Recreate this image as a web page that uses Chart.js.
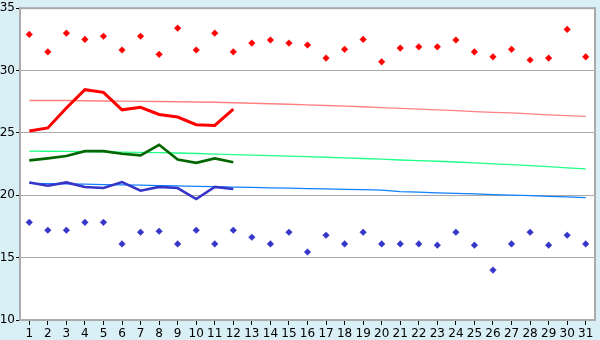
<!DOCTYPE html>
<html>
<head>
<meta charset="utf-8">
<script src="https://cdn.jsdelivr.net/npm/chart.js@4"></script>
<style>
  html, body { margin: 0; padding: 0; background: #d9eff6; }
  #wrap { width: 600px; height: 340px; }
</style>
</head>
<body>
<div id="wrap"><canvas id="temp_chart" width="600" height="340"></canvas></div>
<script>
/** Data **/
const days = []
for (let d = 1; d <= 31; d++) days.push(String(d))

// record highs (red diamonds)
const record_high = [32.9, 31.5, 33.0, 32.5, 32.75, 31.65, 32.75, 31.3, 33.4, 31.65,
    33.0, 31.5, 32.2, 32.45, 32.2, 32.05, 31.0, 31.7, 32.5, 30.7,
    31.8, 31.9, 31.9, 32.45, 31.5, 31.1, 31.7, 30.85, 31.0, 33.3, 31.1]
// record lows (blue diamonds)
const record_low = [17.83, 17.2, 17.2, 17.83, 17.83, 16.1, 17.04, 17.12, 16.1, 17.2,
    16.1, 17.2, 16.64, 16.1, 17.04, 15.45, 16.8, 16.1, 17.04, 16.1,
    16.1, 16.1, 16.0, 17.04, 16.0, 14.0, 16.1, 17.04, 16.0, 16.8, 16.1]

// normals (thin lines)
const normal_high = [27.6, 27.6, 27.6, 27.58, 27.56, 27.55, 27.53, 27.52, 27.5, 27.48,
    27.46, 27.42, 27.38, 27.34, 27.3, 27.25, 27.2, 27.15, 27.1, 27.03,
    26.96, 26.9, 26.85, 26.78, 26.7, 26.64, 26.6, 26.52, 26.45, 26.38, 26.32]
const normal_mean = [23.54, 23.53, 23.52, 23.5, 23.48, 23.46, 23.44, 23.42, 23.39, 23.35,
    23.3, 23.26, 23.22, 23.18, 23.14, 23.1, 23.05, 23.0, 22.95, 22.9,
    22.83, 22.78, 22.73, 22.67, 22.6, 22.52, 22.46, 22.38, 22.3, 22.2, 22.12]
const normal_low = [20.95, 20.93, 20.91, 20.89, 20.86, 20.84, 20.81, 20.78, 20.75, 20.72,
    20.69, 20.66, 20.63, 20.6, 20.57, 20.54, 20.51, 20.48, 20.45, 20.42,
    20.29, 20.25, 20.2, 20.15, 20.11, 20.06, 20.02, 19.97, 19.92, 19.87, 19.82]

// this month so far (thick lines)
const actual_high = [25.16, 25.4, 27.0, 28.47, 28.25, 26.85, 27.06, 26.48, 26.27, 25.66, 25.6, 26.9]
const actual_mean = [22.8, 22.96, 23.15, 23.54, 23.54, 23.33, 23.2, 24.05, 22.86, 22.6, 22.96, 22.65]
const actual_low = [21.03, 20.77, 21.03, 20.67, 20.58, 21.06, 20.37, 20.67, 20.58, 19.7, 20.67, 20.5]

const frame = {
    id: 'frame',
    beforeDraw(chart) {
        const ctx = chart.ctx, a = chart.chartArea
        ctx.save()
        ctx.fillStyle = '#d9eff6'
        ctx.fillRect(0, 0, chart.width, chart.height)
        ctx.fillStyle = '#ffffff'
        ctx.fillRect(a.left, a.top, a.right - a.left, a.bottom - a.top)
        ctx.restore()
    },
    afterDraw(chart) {
        const ctx = chart.ctx, a = chart.chartArea
        ctx.save()
        ctx.strokeStyle = '#aaaaaa'
        ctx.lineWidth = 2
        ctx.strokeRect(a.left, a.top, a.right - a.left, a.bottom - a.top)
        ctx.restore()
    }
}

function line(data, color, width, order) {
    return {
        data: data,
        borderColor: color,
        backgroundColor: color,
        borderWidth: width,
        pointRadius: 0,
        tension: 0,
        fill: false,
        order: order,
    }
}

function marks(data, color) {
    return {
        data: data,
        showLine: false,
        pointStyle: 'rectRot',
        pointRadius: 3.3,
        pointBorderWidth: 0.5,
        borderColor: color,
        backgroundColor: color,
        order: 1,
    }
}

var temp_chart = new Chart(
    document.getElementById('temp_chart').getContext('2d'),
    config = {
        type: 'line',
        data: {
            labels: days,
            datasets: [
                line(normal_high, '#ff8080', 1.3, 6),
                line(normal_mean, '#20ff88', 1.3, 6),
                line(normal_low, '#1080ff', 1.3, 6),
                line(actual_high, '#ff0000', 3, 3),
                line(actual_mean, '#006600', 2.6, 3),
                line(actual_low, '#3535c8', 2.6, 3),
                marks(record_high, '#ff0000'),
                marks(record_low, '#3535c8'),
            ]
        },
        options: {
            responsive: false,
            animation: false,
            layout: {
                padding: { top: 5, right: 5, left: 0, bottom: 0 }
            },
            plugins: {
                legend: { display: false },
                tooltip: { enabled: false },
            },
            scales: {
                x: {
                    offset: true,
                    grid: {
                        offset: false,
                        drawOnChartArea: false,
                        drawTicks: true,
                        tickLength: 5,
                        tickColor: '#000000',
                    },
                    border: { color: '#aaaaaa', width: 2 },
                    ticks: {
                        color: '#000000',
                        font: { family: 'DejaVu Sans', size: 12 },
                        padding: 2,
                        maxRotation: 0,
                        autoSkip: false,
                    },
                    afterFit: function (scale) { scale.height = 20 },
                },
                y: {
                    min: 10,
                    max: 35,
                    grid: {
                        color: '#aaaaaa',
                        lineWidth: 1,
                        drawTicks: true,
                        tickLength: 4,
                        tickColor: '#000000',
                    },
                    border: { color: '#aaaaaa', width: 2 },
                    ticks: {
                        stepSize: 5,
                        color: '#000000',
                        font: { family: 'DejaVu Sans', size: 12 },
                        padding: 1,
                    },
                    afterFit: function (scale) { scale.width = 20 },
                }
            },
        },
        plugins: [frame]
    }
);
</script>
</body>
</html>
